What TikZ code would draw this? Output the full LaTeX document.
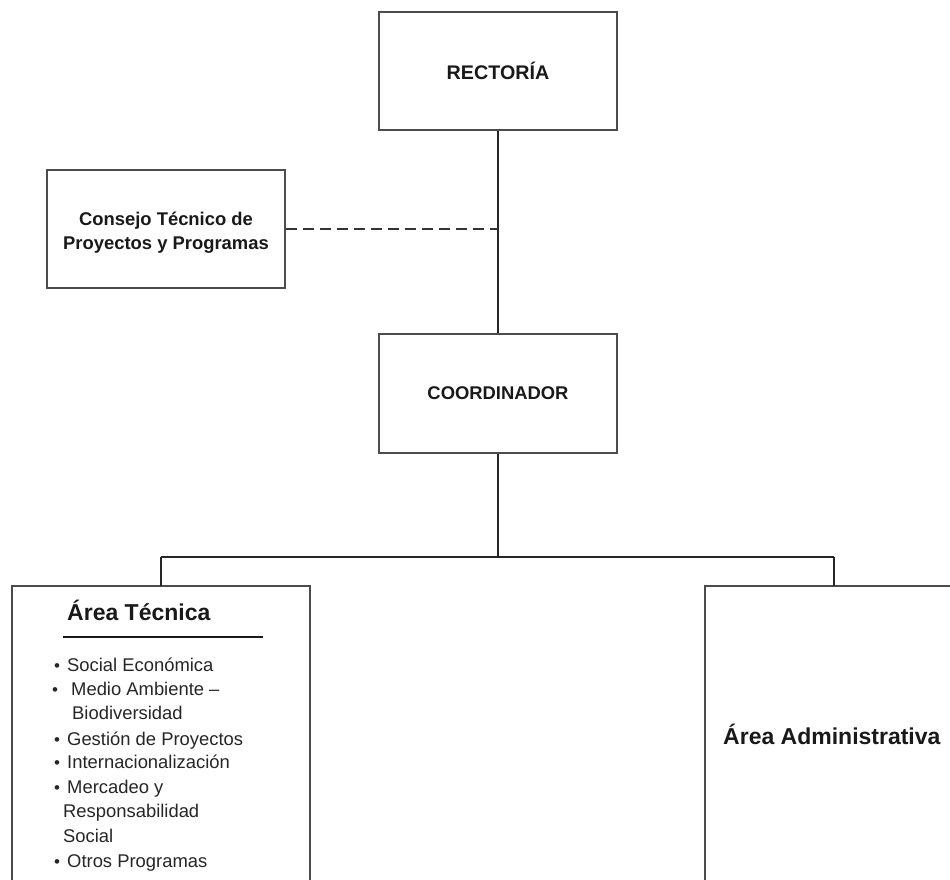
\documentclass[tikz,border=0pt]{standalone}
\usepackage{fontspec}
\setmainfont{Liberation Sans}
\begin{document}
\begin{tikzpicture}[x=1pt,y=-1pt,
  unit/.style={draw=black!70,line width=1.4pt,fill=white,inner sep=0pt},
  link/.style={draw=black!85,line width=1.2pt},
  dashlink/.style={draw=black!80,line width=1.2pt,dash pattern=on 11pt off 6pt},
  boldlabel/.style={font=\fontsize{18.4}{24}\selectfont\bfseries,align=center,text=black!90},
  heading/.style={anchor=base west,inner sep=0pt,font=\fontsize{23}{26}\selectfont\bfseries,text=black!90},
  item/.style={anchor=base west,inner sep=0pt,font=\fontsize{18.4}{22}\selectfont,text=black!85},
  dot/.style={anchor=base,inner sep=0pt,font=\fontsize{17}{17}\selectfont,text=black!85}]
\useasboundingbox (0,0) rectangle (950,880);
\clip (0,0) rectangle (950,880);
\fill[white] (0,0) rectangle (950,880);

% upper chain
\node[unit,minimum width=238pt,minimum height=118pt] (rect) at (498,71) {};
\node[boldlabel,font=\fontsize{19.7}{22}\selectfont\bfseries] at (rect.center) {RECTORÍA};
\node[unit,minimum width=238pt,minimum height=118pt] (cons) at (166,229) {};
\node[boldlabel] at ([yshift=-4pt]cons.center) {Consejo Técnico de\\Proyectos y Programas};
\node[unit,minimum width=238pt,minimum height=119pt] (coord) at (498,393.5) {};
\node[boldlabel] at (coord.center) {COORDINADOR};

% lower areas (running past the page bottom)
\draw[unit] (12,586) rectangle (310,900);
\coordinate (tec) at (161,586);
\draw[unit] (705,586) rectangle (980,900);
\coordinate (adm) at (834,586);

% connectors
\coordinate (mid) at (498,229);
\coordinate (bus) at (498,557);
\coordinate (busL) at (161,557);
\coordinate (busR) at (834,557);
\draw[link] (rect.south) -- (coord.north);
\draw[dashlink] (cons.east) -- (mid);
\draw[link] (coord.south) -- (bus);
\draw[link] (busL) -- (busR);
\draw[link] (busL) -- (tec);
\draw[link] (busR) -- (adm);

% technical area contents
\node[heading] (tech) at (67,620) {Área Técnica};
\coordinate (ruleL) at (63,637);
\coordinate (ruleR) at (263,637);
\draw[black!90,line width=2pt] (ruleL) -- (ruleR);

\node[dot] (b1) at (57,671) {•};
\node[item] (i1) at (67,671) {Social Económica};
\node[dot] (b2) at (55,695) {•};
\node[item] (i2) at (71,695) {Medio Ambiente –};
\node[item] (i2b) at (72,719) {Biodiversidad};
\node[dot] (b3) at (57,745) {•};
\node[item] (i3) at (67,745) {Gestión de Proyectos};
\node[dot] (b4) at (57,768) {•};
\node[item] (i4) at (67,768) {Internacionalización};
\node[dot] (b5) at (57,793) {•};
\node[item] (i5) at (67,793) {Mercadeo y};
\node[item] (i5b) at (63,817) {Responsabilidad};
\node[item] (i5c) at (63,842) {Social};
\node[dot] (b6) at (57,867) {•};
\node[item] (i6) at (67,867) {Otros Programas};

% administrative area
\node[heading] (admin) at (723,744) {Área Administrativa};
\end{tikzpicture}
\end{document}
